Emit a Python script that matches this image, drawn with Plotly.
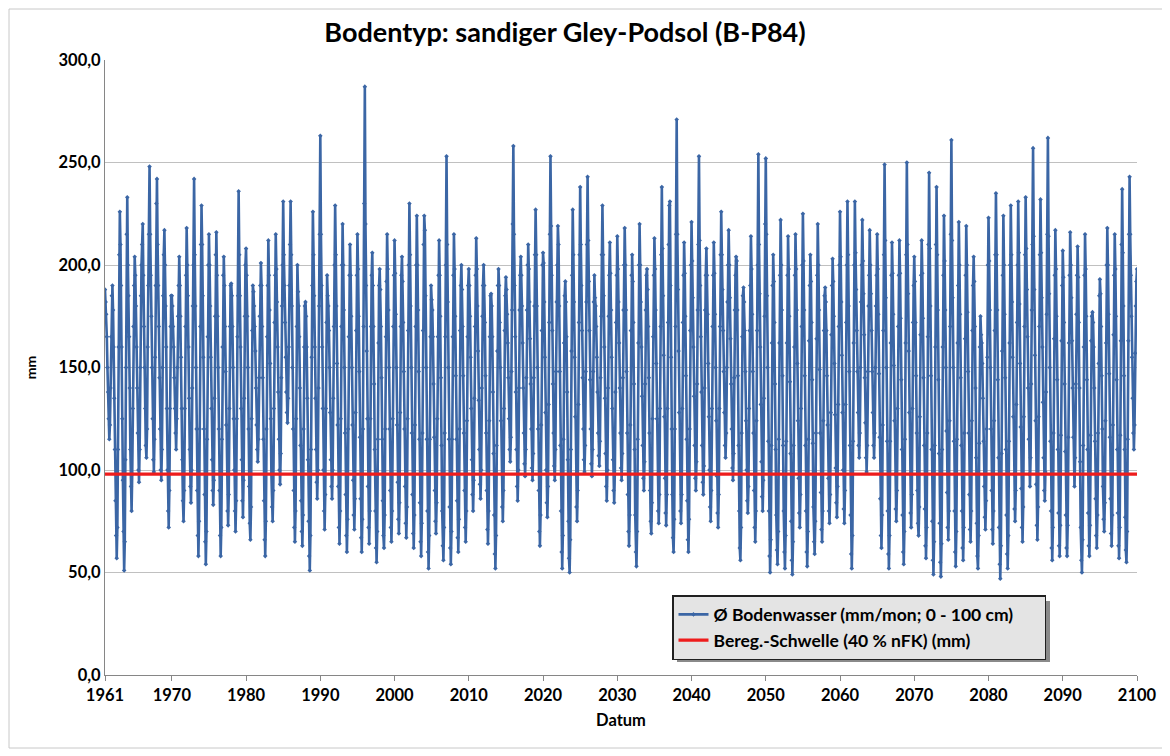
import pandas as pd
import plotly.graph_objects as go

# Monthly mean soil water (mm/mon; 0-100 cm), Jan..Dec per year
bw_1960s = [
    188,182,176,165,150,138,125,115,122,140,165,185,
    190,178,160,135,110,85,68,57,72,110,160,205,
    226,210,190,160,125,95,70,51,65,105,150,215,
    233,200,185,165,140,110,92,80,98,130,170,190,
    204,195,180,160,140,118,100,94,110,150,185,200,
    210,220,195,170,150,130,112,106,120,160,190,215,
    248,215,195,175,150,125,105,99,115,155,190,230,
    242,210,190,170,145,120,100,95,110,150,185,205,
    217,200,180,160,130,100,80,72,90,130,170,185,
]
bw_1970s = [
    185,180,170,160,145,130,118,110,125,150,175,190,
    204,190,175,155,130,105,85,75,90,130,170,195,
    218,200,185,160,135,110,92,84,100,140,180,200,
    242,205,180,150,120,90,68,58,75,120,170,210,
    229,210,185,155,120,88,65,54,70,115,165,200,
    215,200,180,155,130,105,90,83,95,135,175,205,
    216,195,175,150,120,90,68,58,72,115,160,195,
    204,190,170,148,122,98,80,73,88,130,170,190,
    191,185,170,150,125,100,80,70,85,125,165,185,
    236,205,185,160,130,105,85,77,95,135,175,200,
]
bw_1980s = [
    208,195,175,150,120,92,74,66,82,125,168,190,
    187,180,170,158,140,122,110,104,115,145,175,190,
    201,190,170,145,115,85,66,58,75,120,165,190,
    212,195,178,152,125,98,82,75,90,130,172,195,
    215,198,182,160,138,115,100,93,108,145,180,200,
    231,205,190,172,155,138,128,123,135,160,190,210,
    231,205,180,150,120,90,72,65,80,125,170,200,
    187,180,165,140,112,85,70,63,78,120,160,180,
    182,175,160,135,105,75,58,51,68,110,155,190,
    226,205,185,160,135,110,94,86,100,140,180,215,
]
bw_1990s = [
    263,215,190,160,130,100,80,71,88,130,172,195,
    185,180,168,150,128,105,92,86,100,135,170,200,
    229,205,180,152,122,92,72,64,80,125,170,200,
    220,200,178,150,118,88,68,60,76,120,165,195,
    210,195,175,150,122,95,78,71,86,128,168,195,
    215,198,175,148,116,86,67,60,76,120,170,230,
    287,220,190,158,125,92,72,64,80,125,170,195,
    206,190,170,142,110,80,62,55,70,115,162,190,
    198,188,170,145,115,85,68,62,78,120,165,192,
    215,198,178,150,120,90,72,65,80,125,170,195,
]
bw_2000s = [
    212,196,176,150,122,94,76,69,84,128,170,195,
    204,192,172,148,120,92,74,67,82,125,168,200,
    230,205,180,150,118,88,69,62,78,122,170,200,
    224,200,178,148,115,84,65,58,74,118,168,210,
    224,217,185,150,115,80,60,52,68,115,165,190,
    183,178,165,142,116,90,75,69,84,125,165,195,
    212,195,175,145,112,80,63,56,72,118,165,200,
    253,210,182,150,115,82,62,54,70,115,165,195,
    215,198,175,146,115,85,67,60,76,120,168,190,
    200,188,170,146,118,90,72,65,80,124,165,190,
]
bw_2010s = [
    198,190,175,155,130,105,88,80,95,135,170,195,
    213,198,180,158,134,110,93,86,100,140,175,190,
    200,190,172,146,118,90,71,64,80,124,165,185,
    186,180,165,138,108,78,59,52,68,112,158,190,
    198,190,172,150,124,98,82,75,90,130,168,185,
    194,188,176,162,145,125,110,104,116,148,178,220,
    258,215,190,165,138,110,92,85,100,140,178,195,
    204,195,180,162,140,118,103,97,110,145,178,200,
    210,198,182,164,142,120,101,95,108,145,180,205,
    227,205,180,150,120,90,70,63,78,122,168,200,
]
bw_2020s = [
    206,201,182,155,128,100,84,77,92,132,172,215,
    253,219,195,168,142,118,102,95,110,148,182,200,
    219,210,180,148,112,80,60,52,68,115,162,185,
    192,182,165,138,105,75,57,50,66,110,158,195,
    227,205,182,155,126,98,82,75,90,132,172,205,
    238,210,190,168,145,120,105,99,112,148,182,210,
    243,212,192,168,144,120,103,97,110,148,182,195,
    184,180,170,155,138,118,107,102,114,145,175,205,
    229,205,185,160,135,108,92,85,100,140,175,195,
    211,196,178,155,130,105,90,84,98,138,172,195,
]
bw_2030s = [
    214,198,182,162,140,118,101,95,108,145,178,200,
    218,200,178,148,118,88,70,63,78,122,168,195,
    205,192,172,142,110,78,60,53,70,115,162,200,
    220,200,182,160,136,112,96,90,104,142,178,195,
    198,188,170,145,118,90,75,69,84,125,165,195,
    213,198,178,152,125,98,80,74,88,130,170,205,
    238,208,185,156,126,96,79,73,88,130,172,210,
    229,231,190,155,120,88,67,60,76,120,170,215,
    271,215,188,158,128,98,80,74,88,130,172,195,
    211,196,175,146,115,85,66,60,76,120,168,200,
]
bw_2040s = [
    221,202,184,160,136,112,96,90,104,142,178,210,
    253,212,190,165,138,112,94,88,102,140,178,195,
    208,195,176,152,126,100,82,75,90,130,170,195,
    211,196,176,150,124,97,79,72,88,130,170,205,
    226,205,188,168,148,128,112,106,118,150,182,200,
    217,200,184,164,142,120,101,95,108,145,178,195,
    204,202,178,146,112,80,62,56,72,118,165,185,
    189,182,168,148,124,100,85,79,92,130,168,190,
    214,198,176,148,118,90,72,65,80,124,168,200,
    254,210,186,160,132,104,87,80,95,135,175,220,
]
bw_2050s = [
    252,215,185,150,114,80,58,50,66,112,162,190,
    205,192,172,142,110,78,61,54,70,115,162,195,
    222,200,178,146,112,80,60,52,68,114,162,195,
    214,198,175,143,108,75,56,49,65,112,160,195,
    215,198,178,152,124,96,79,72,88,130,170,200,
    225,202,178,146,112,80,60,53,70,115,163,190,
    205,192,172,144,113,82,65,59,75,118,164,195,
    220,200,178,149,118,89,71,65,80,124,168,185,
    189,182,168,146,122,96,80,74,88,128,166,190,
    203,192,175,152,127,101,84,77,92,132,170,200,
]
bw_2060s = [
    226,204,182,156,128,100,81,74,90,132,172,200,
    231,205,180,148,112,78,59,52,68,114,162,200,
    231,206,188,168,148,128,112,106,118,150,182,200,
    222,202,186,166,145,123,106,99,112,148,180,195,
    217,200,186,168,148,128,112,106,118,150,180,195,
    215,198,176,147,116,86,68,62,78,122,168,205,
    249,212,184,150,114,80,59,52,68,114,162,195,
    211,196,176,151,124,98,81,75,90,130,170,195,
    212,196,174,144,110,78,60,54,70,115,162,205,
    250,210,186,158,128,98,79,72,88,130,172,190,
]
bw_2070s = [
    204,192,172,146,118,90,74,68,82,126,166,195,
    212,196,174,145,112,81,63,57,72,118,165,210,
    245,208,180,146,110,75,56,49,65,112,160,210,
    238,205,178,144,108,74,55,48,64,110,160,195,
    224,202,178,150,119,89,72,66,80,124,170,215,
    261,212,184,150,114,80,60,53,70,115,162,190,
    221,200,176,145,112,80,62,56,72,118,164,195,
    219,200,177,148,118,88,71,65,80,124,168,190,
    204,192,170,140,106,74,58,52,68,113,160,175,
    166,162,152,135,114,92,77,71,85,120,155,200,
]
bw_2080s = [
    223,202,178,150,120,90,71,64,80,124,168,205,
    235,205,178,144,106,72,54,47,63,108,158,195,
    224,200,176,145,110,78,59,52,68,114,162,200,
    229,205,182,155,126,98,81,75,90,132,172,200,
    231,206,181,152,121,91,72,65,82,126,170,205,
    233,208,188,165,140,115,98,92,106,142,178,210,
    257,214,188,156,124,93,73,66,82,126,170,205,
    232,206,184,160,133,106,90,85,99,138,176,215,
    262,214,186,150,114,80,62,56,72,118,164,195,
    217,198,175,144,110,79,63,58,73,117,163,190,
]
bw_2090s = [
    207,194,172,142,109,78,62,58,73,116,162,195,
    216,200,184,163,140,116,98,92,106,142,176,195,
    209,194,172,140,104,72,56,50,66,112,160,195,
    215,198,175,144,110,79,63,58,73,117,163,175,
    177,172,160,140,114,86,68,62,78,118,152,185,
    193,186,170,146,120,92,76,70,84,124,162,200,
    218,200,176,147,116,86,69,63,78,122,166,195,
    215,198,175,144,110,79,63,57,72,117,163,210,
    237,206,180,146,110,77,61,55,70,115,163,215,
    243,215,195,175,155,135,118,110,122,157,180,192,
]
bw_2100 = [198]

threshold_mm = 98  # Bereg.-Schwelle (40 % nFK)

y_tick_vals = [0, 50, 100, 150, 200, 250, 300]
y_tick_text = ["0,0", "50,0", "100,0", "150,0", "200,0", "250,0", "300,0"]
x_tick_years = [1961, 1970, 1980, 1990, 2000, 2010, 2020, 2030, 2040, 2050,
                2060, 2070, 2080, 2090, 2100]

series_name = "Ø Bodenwasser (mm/mon; 0 - 100 cm)"
threshold_name = "Bereg.-Schwelle (40 % nFK) (mm)"
title_text = "Bodentyp: sandiger Gley-Podsol (B-P84)"

values = (bw_1960s + bw_1970s + bw_1980s + bw_1990s + bw_2000s + bw_2010s +
          bw_2020s + bw_2030s + bw_2040s + bw_2050s + bw_2060s + bw_2070s +
          bw_2080s + bw_2090s + bw_2100)
dates = pd.date_range("1961-01-01", periods=len(values), freq="MS")

FONT = "Lato"
BLUE = "#3b66a5"
RED = "#ee1c1c"
PAD = "\u00a0" * 6  # keeps the legend box as wide as in the original

fig = go.Figure()
fig.add_trace(go.Scatter(
    x=dates, y=values, mode="lines+markers", name=series_name + PAD,
    line=dict(color=BLUE, width=2.6),
    marker=dict(symbol="diamond", size=3.5, color=BLUE),
))
fig.add_trace(go.Scatter(
    x=dates, y=[threshold_mm] * len(dates), mode="lines", name=threshold_name,
    line=dict(color=RED, width=3.4),
))

# page body adds an 8 px offset; figure coords = screen coords - 8
OFF = 8
W, H = 1162, 748
L, R, T, B = 97, 33, 52, 81
pw, ph = W - L - R, H - T - B

def px_x(x):
    return (x - OFF - L) / pw

def px_y(y):
    return (H - B - (y - OFF)) / ph

fig.update_layout(
    width=W, height=H,
    margin=dict(l=L, r=R, t=T, b=B),
    paper_bgcolor="white", plot_bgcolor="white",
    font=dict(family=FONT, size=16, color="black"),
    title=dict(text="<b>" + title_text + "</b>", x=(565 - OFF) / W, xanchor="center",
               y=1 - (33 - OFF) / H, yanchor="middle",
               font=dict(family=FONT, size=27, color="black")),
    showlegend=True,
    legend=dict(x=px_x(672), y=px_y(595), xanchor="left", yanchor="top",
                bgcolor="#e4e4e4", bordercolor="#202020", borderwidth=1.5,
                font=dict(family=FONT, size=17.5, color="black", weight="bold"),
                tracegroupgap=0, itemwidth=30),
    shapes=[
        dict(type="rect", xref="paper", yref="paper",
             x0=px_x(9), x1=px_x(1164), y0=px_y(748), y1=px_y(9),
             line=dict(color="#c8c8c8", width=1), fillcolor="rgba(0,0,0,0)",
             layer="below"),
        dict(type="rect", xref="paper", yref="paper",
             x0=px_x(677), x1=px_x(1050), y0=px_y(662), y1=px_y(601),
             line=dict(width=0), fillcolor="#8a8a8a", layer="below"),
    ],
)

fig.update_xaxes(
    type="date",
    range=["1961-01-01", "2100-01-01"],
    tickvals=[f"{y}-01-01" for y in x_tick_years],
    ticktext=[f"<b>{y}</b>" for y in x_tick_years],
    tickfont=dict(family=FONT, size=16.5, color="black"),
    showgrid=False, showline=True, linecolor="#868686", linewidth=1,
    ticks="outside", ticklen=5, tickcolor="#868686",
    title=dict(text="<b>Datum</b>", font=dict(family=FONT, size=16.5), standoff=10),
    zeroline=False,
)
fig.update_yaxes(
    range=[0, 300],
    tickvals=y_tick_vals, ticktext=[f"<b>{t}</b>" for t in y_tick_text],
    tickfont=dict(family=FONT, size=16.5, color="black"),
    showgrid=True, gridcolor="#c0c0c0", gridwidth=1,
    showline=True, linecolor="#868686", linewidth=1,
    ticks="", ticklen=0,
    title=dict(text="<b>mm</b>", font=dict(family=FONT, size=14), standoff=18),
    zeroline=False,
)

fig.write_html("out.html")
